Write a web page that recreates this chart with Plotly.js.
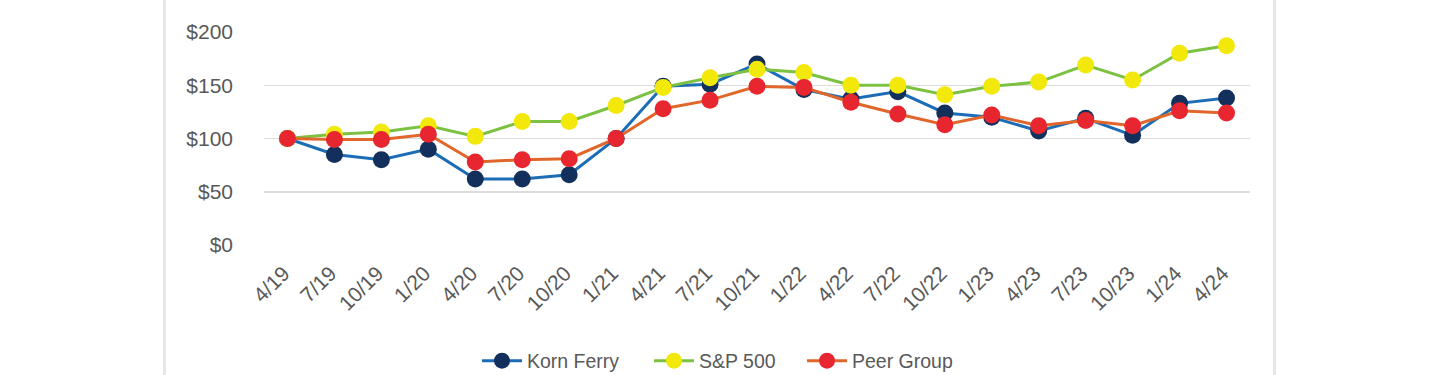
<!DOCTYPE html>
<html>
<head>
<meta charset="utf-8">
<script src="https://cdn.plot.ly/plotly-3.0.1.min.js"></script>
<style>
  html, body { margin: 0; padding: 0; background: #ffffff; }
  #chart { width: 1440px; height: 375px; position: relative; }
  .border { position: absolute; top: 0; width: 3px; height: 375px; background: #e6e6e6; z-index: 10; }
</style>
</head>
<body>
<div id="chart"></div>
<div class="border" style="left:163px;"></div>
<div class="border" style="left:1273px;"></div>
<script>
const categories = ["4/19","7/19","10/19","1/20","4/20","7/20","10/20","1/21","4/21","7/21","10/21","1/22","4/22","7/22","10/22","1/23","4/23","7/23","10/23","1/24","4/24"];
const kornFerry = [100, 85, 80, 90, 62, 62, 66, 100, 149, 151, 170, 146, 137, 144, 124, 120, 107, 119, 103, 133, 138];
const sp500 = [100, 104, 106, 112, 102, 116, 116, 131, 148, 157, 165, 162, 150, 150, 141, 149, 153, 169, 155, 180, 187];
const peerGroup = [100, 99, 99, 104, 78, 80, 81, 100, 128, 136, 149, 148, 134, 123, 113, 122, 112, 117, 112, 126, 124];
const yTickVals = [0, 50, 100, 150, 200];
const yTickText = ["$0", "$50", "$100", "$150", "$200"];

function mk(name, y, lineColor, markerColor, legendId) {
  return {
    type: "scatter", mode: "lines+markers", name: name,
    x: categories, y: y, legend: legendId,
    line: { color: lineColor, width: 3 },
    marker: { color: markerColor, size: 17 }
  };
}

const data = [
  mk("Korn Ferry", kornFerry, "#1c6db6", "#132f5c", "legend"),
  mk("S&P 500", sp500, "#7cc142", "#f2e80a", "legend2"),
  mk("Peer Group", peerGroup, "#e0662b", "#e8262f", "legend3")
];

function leg(xpx) {
  return {
    orientation: "h", xref: "container", yref: "container",
    x: xpx / 1440, xanchor: "left", y: (375 - 361) / 375, yanchor: "middle",
    itemwidth: 40,
    font: { size: 19.5, color: "#595959" }, bgcolor: "rgba(0,0,0,0)", borderwidth: 0
  };
}

const layout = {
  width: 1440, height: 375,
  margin: { l: 264, r: 190, t: 32, b: 130 },
  paper_bgcolor: "#ffffff", plot_bgcolor: "#ffffff",
  font: { family: "Liberation Sans, Arial, sans-serif", color: "#595959", size: 20 },
  showlegend: true,
  legend: leg(477),
  legend2: leg(649),
  legend3: leg(802),
  xaxis: {
    type: "category", range: [-0.5, 20.5], automargin: false,
    tickangle: -45, tickfont: { size: 21, color: "#595959" },
    ticklabelstandoff: 11, ticklabelshift: -4,
    showgrid: false, zeroline: false, showline: false, ticks: "",
    fixedrange: true
  },
  yaxis: {
    range: [0, 200], tickvals: yTickVals, ticktext: yTickText, automargin: false,
    tickfont: { size: 21, color: "#595959" },
    showgrid: true, gridcolor: "#dcdcdc", gridwidth: 1.5,
    zeroline: false, showline: false, ticks: "", ticklabelstandoff: 30,
    fixedrange: true
  }
};

Plotly.newPlot("chart", data, layout, { displayModeBar: false, staticPlot: true });
</script>
</body>
</html>
